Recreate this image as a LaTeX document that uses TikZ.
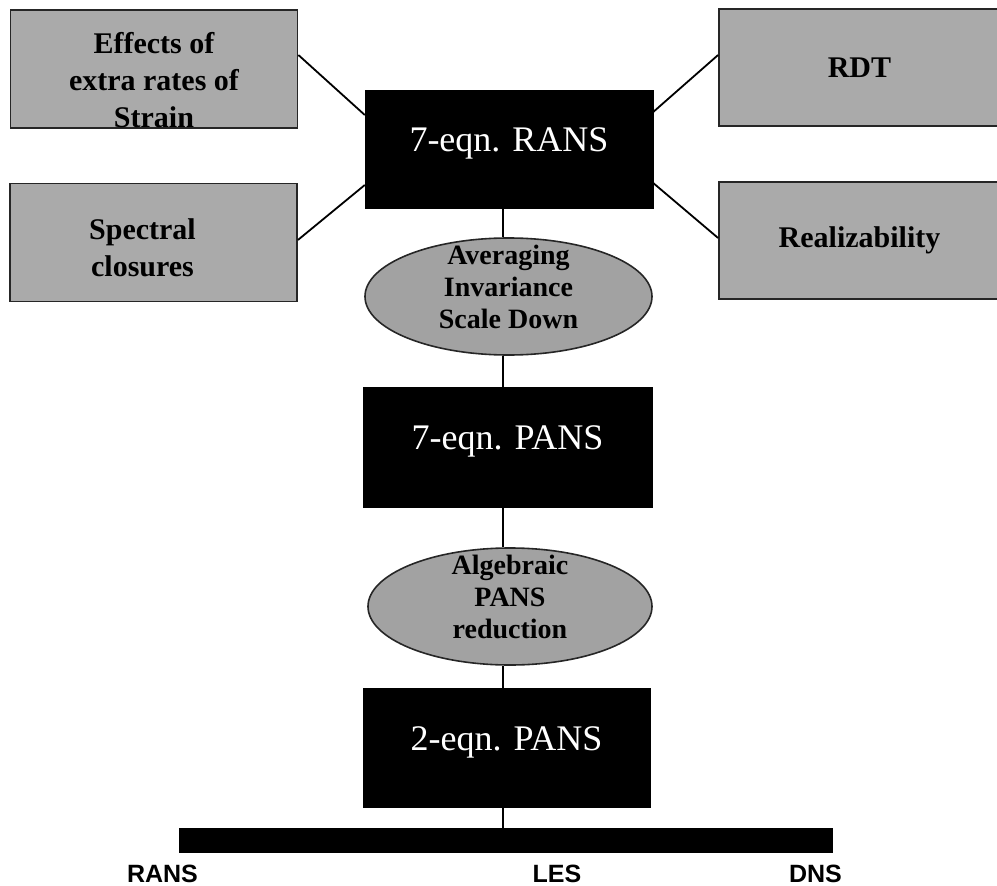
\documentclass[tikz,border=0pt]{standalone}
\usepackage{fontspec}
\setmainfont{Liberation Serif}
\newfontfamily\arialfont{Liberation Sans}
\usetikzlibrary{shapes.geometric,calc}
\definecolor{boxgray}{RGB}{170,170,170}
\definecolor{ellgray}{RGB}{162,162,162}
\begin{document}
\begin{tikzpicture}[x=1pt,y=-1pt,
  graybox/.style={rectangle, draw=black!85, line width=1.8pt, fill=boxgray, inner sep=0pt, minimum width=287pt, minimum height=118pt},
  graytext/.style={font=\fontsize{30}{37}\selectfont\bfseries, align=center, text=black},
  blackbox/.style={rectangle, fill=black, draw=black, inner sep=0pt, minimum width=287pt, minimum height=118pt, text=white, font=\fontsize{36}{40}\selectfont, text height=24pt, text depth=19pt},
  oval/.style={ellipse, draw=black!85, line width=1.6pt, fill=ellgray, inner sep=0pt, minimum width=285pt, minimum height=117pt},
  ovaltext/.style={font=\fontsize{28}{32}\selectfont\bfseries, align=center, text=black},
  link/.style={line width=1.8pt, draw=black},
  axislabel/.style={font=\arialfont\bfseries\fontsize{25}{28}\selectfont, anchor=base}
]
\useasboundingbox (0,0) rectangle (997,886);
\clip (0,0) rectangle (997,886);
\coordinate (spine) at (503,0);

% gray side boxes
\node[graybox, label={[graytext, yshift=-11.5pt]center:Effects of\\extra rates of\\Strain}] (effects) at (154,69) {};
\node[graybox, label={[graytext, xshift=-11pt, yshift=-5pt]center:Spectral\\closures}] (spectral) at (153.5,242.5) {};
\node[graybox, minimum width=281pt, minimum height=117pt, label={[graytext]center:RDT}] (rdt) at (859.5,67.5) {};
\node[graybox, minimum width=281pt, minimum height=117pt, label={[graytext]center:Realizability}] (real) at (859.5,240.5) {};

% main chain
\node[blackbox, minimum width=288pt] (rans) at (509,149) {7-eqn. RANS};
\node[oval, minimum width=287pt, label={[ovaltext, yshift=9.5pt]center:Averaging\\Invariance\\Scale Down}] (avg) at (508.5,296.5) {};
\node[blackbox, minimum width=289pt, minimum height=120pt] (pans7) at (507.5,447) {7-eqn. PANS};
\node[oval, minimum width=284pt, label={[ovaltext, yshift=10pt]center:Algebraic\\PANS\\reduction}] (alg) at (510,606.5) {};
\node[blackbox, minimum height=119pt] (pans2) at (506.5,747.5) {2-eqn. PANS};

% spectrum bar
\node[rectangle, fill=black, inner sep=0pt, minimum width=654pt, minimum height=25pt] (bar) at (506,840.5) {};
\node[axislabel] (lrans) at (162.5,882) {RANS};
\node[axislabel] (lles) at (557,882) {LES};
\node[axislabel] (ldns) at (815.5,882) {DNS};

% side connectors
\draw[link] ([yshift=14pt]effects.east) -- ([yshift=34pt]rans.west);
\draw[link] ([yshift=2.5pt]spectral.east) -- ([yshift=-36pt]rans.west);
\draw[link] ([yshift=37pt]rans.east) -- ([yshift=12.5pt]rdt.west);
\draw[link] ([yshift=-34pt]rans.east) -- ([yshift=2.5pt]real.west);

% vertical connectors
\draw[link] (rans.south -| spine) -- (avg.north -| spine);
\draw[link] (avg.south -| spine) -- (pans7.north -| spine);
\draw[link] (pans7.south -| spine) -- (alg.north -| spine);
\draw[link] (alg.south -| spine) -- (pans2.north -| spine);
\draw[link] (pans2.south -| spine) -- (bar.north -| spine);
\end{tikzpicture}
\end{document}
